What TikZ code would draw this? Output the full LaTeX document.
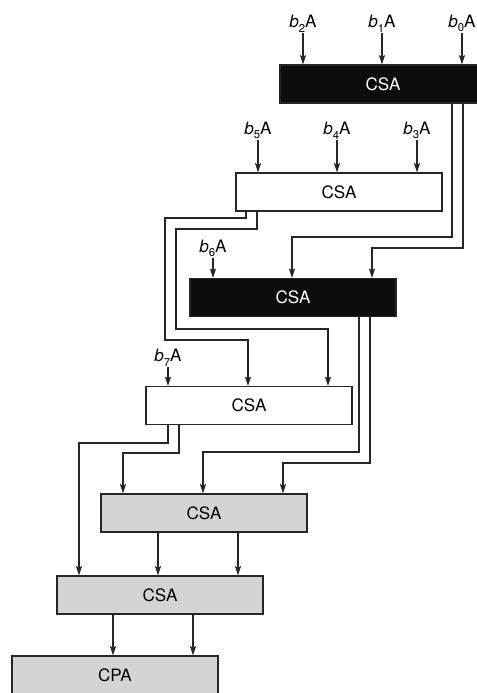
\documentclass[tikz,border=0pt]{standalone}
\usepackage{fontspec}
\setmainfont{TeX Gyre Heros}
\usetikzlibrary{arrows.meta}

\newcommand{\bA}[1]{\textit{b}\raisebox{-3.6pt}{\fontsize{8.5}{9}\selectfont #1}A}

\begin{document}
\begin{tikzpicture}[
  x=0.75pt,
  y=-0.75pt,
  adder/.style={draw=black!85, line width=0.8pt, minimum width=154.5pt, minimum height=28.5pt, inner sep=0pt, font=\fontsize{12.8}{15}\selectfont},
  dark/.style={fill=black!95, text=white},
  plain/.style={fill=white},
  shaded/.style={fill=black!17},
  tag/.style={anchor=south, inner sep=0.5pt, font=\fontsize{12.8}{15}\selectfont},
  wire/.style={line width=0.8pt, color=black!85},
  arrow/.style={wire, -{Stealth[length=7pt, width=4.5pt, inset=1.2pt]}}
]
  \useasboundingbox (0,0) rectangle (477,693);

  % adder tree
  \node[adder, dark] (csa1) at (383,84) {CSA};
  \node[adder, plain] (csa2) at (339,192) {CSA};
  \node[adder, dark] (csa3) at (293,297.5) {CSA};
  \node[adder, plain] (csa4) at (249,405.5) {CSA};
  \node[adder, shaded] (csa5) at (204,513) {CSA};
  \node[adder, shaded] (csa6) at (160,595) {CSA};
  \node[adder, shaded] (cpa) at (115,675) {CPA};

  % partial products
  \node[tag] (b2) at (303,33) {\bA{2}};
  \node[tag] (b1) at (382,33) {\bA{1}};
  \node[tag] (b0) at (462,33) {\bA{0}};
  \node[tag] (b5) at (258,140) {\bA{5}};
  \node[tag] (b4) at (337,140) {\bA{4}};
  \node[tag] (b3) at (417,140) {\bA{3}};
  \node[tag] (b6) at (213,258) {\bA{6}};
  \node[tag] (b7) at (168,367) {\bA{7}};
  \draw[arrow] (b2) -- (b2 |- csa1.north);
  \draw[arrow] (b1) -- (b1 |- csa1.north);
  \draw[arrow] (b0) -- (b0 |- csa1.north);
  \draw[arrow] (b5) -- (b5 |- csa2.north);
  \draw[arrow] (b4) -- (b4 |- csa2.north);
  \draw[arrow] (b3) -- (b3 |- csa2.north);
  \draw[arrow] (b6) -- (b6 |- csa3.north);
  \draw[arrow] (b7) -- (b7 |- csa4.north);

  % sum and carry wires
  \draw[arrow] (csa1.south -| 452,0) |- (292,237) -- (csa3.north -| 292,0);
  \draw[arrow] (csa1.south -| 463,0) |- (372,248) -- (csa3.north -| 372,0);
  \draw[arrow] (csa2.south -| 246,0) |- (165,218) |- (248,340) -- (csa4.north -| 248,0);
  \draw[arrow] (csa2.south -| 257,0) |- (176,229) |- (328,329) -- (csa4.north -| 328,0);
  \draw[arrow] (csa3.south -| 359,0) |- (203,452) -- (csa5.north -| 203,0);
  \draw[arrow] (csa3.south -| 370,0) |- (283,463) -- (csa5.north -| 283,0);
  \draw[arrow] (csa4.south -| 168,0) |- (79,443) -- (csa6.north -| 79,0);
  \draw[arrow] (csa4.south -| 179,0) |- (123,453) -- (csa5.north -| 123,0);
  \draw[arrow] (csa5.south -| 158,0) -- (csa6.north -| 158,0);
  \draw[arrow] (csa5.south -| 238,0) -- (csa6.north -| 238,0);
  \draw[arrow] (csa6.south -| 113,0) -- (cpa.north -| 113,0);
  \draw[arrow] (csa6.south -| 193,0) -- (cpa.north -| 193,0);
\end{tikzpicture}
\end{document}
